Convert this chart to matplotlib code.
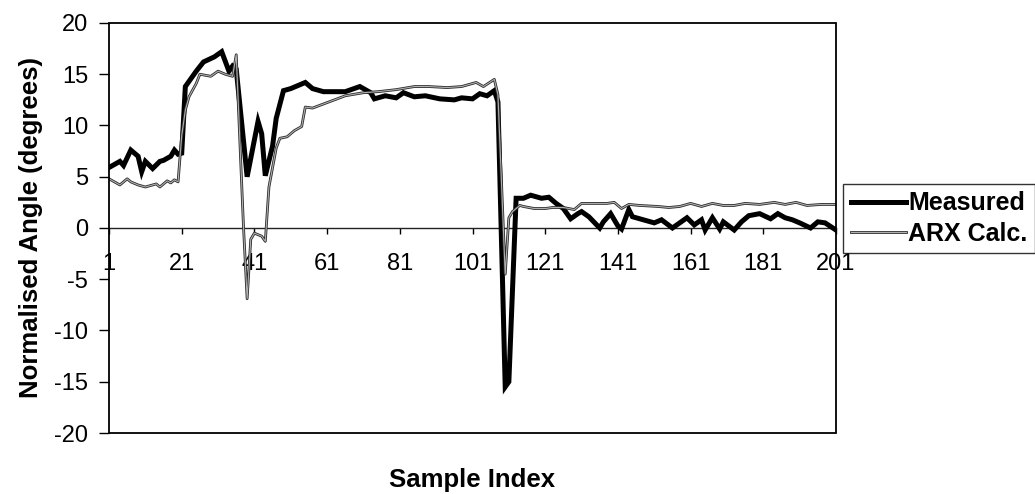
import matplotlib
matplotlib.use("Agg")
import matplotlib.pyplot as plt
import matplotlib.patheffects as pe
from matplotlib.patches import Rectangle

plt.rcParams['font.family'] = ['Liberation Sans', 'DejaVu Sans']
plt.rcParams['axes.unicode_minus'] = False

# values
meas_x = [1, 4, 5, 7, 9, 10, 11, 13, 15, 16, 18, 19, 20, 21, 22, 23, 25, 27, 30, 32,
          34, 35, 36, 39, 42, 43, 44, 46, 47, 49, 51, 55, 57, 60, 66, 70, 73, 74, 77, 80,
          82, 85, 88, 92, 96, 98, 101, 103, 105, 107, 108, 110, 111, 113, 115, 117, 120, 122, 124, 126,
          128, 130, 131, 133, 136, 137, 139, 141, 142, 144, 145, 148, 151, 153, 156, 158, 160, 162, 164, 165,
          167, 169, 170, 173, 175, 177, 180, 183, 185, 187, 189, 191, 194, 196, 198, 201]
meas_y = [5.9, 6.5, 6.1, 7.6, 7.0, 5.5, 6.5, 5.8, 6.5, 6.6, 7.0, 7.6, 7.2, 7.3, 13.8, 14.3, 15.3, 16.2, 16.7, 17.2,
          15.3, 15.8, 15.5, 5.0, 10.4, 9.2, 5.1, 8.0, 10.7, 13.4, 13.6, 14.2, 13.6, 13.3, 13.3, 13.8, 13.2, 12.6, 12.9, 12.7,
          13.2, 12.8, 12.9, 12.6, 12.5, 12.7, 12.6, 13.1, 12.9, 13.4, 12.3, -15.5, -15.0, 2.9, 2.9, 3.2, 2.9, 3.0, 2.4, 1.9,
          0.9, 1.4, 1.6, 1.1, 0.0, 0.6, 1.4, 0.2, -0.1, 1.8, 1.1, 0.8, 0.5, 0.8, 0.0, 0.5, 1.0, 0.3, 0.8, -0.2,
          1.0, -0.1, 0.6, -0.2, 0.6, 1.2, 1.4, 0.9, 1.4, 1.0, 0.8, 0.5, 0.0, 0.6, 0.5, -0.2]

arx_x = [1, 4, 6, 7, 9, 11, 14, 15, 17, 18, 19, 20, 21, 22, 23, 25, 26, 29, 31, 33,
         35, 36, 38, 39, 40, 41, 43, 44, 45, 47, 48, 50, 52, 54, 55, 57, 60, 63, 66, 71,
         75, 80, 85, 89, 94, 98, 102, 104, 107, 108, 110, 111, 112, 114, 115, 118, 121, 123, 126, 129,
         131, 133, 138, 140, 142, 144, 147, 152, 155, 158, 161, 164, 167, 170, 173, 176, 180, 184, 187, 190,
         193, 197, 201]
arx_y = [4.8, 4.2, 4.8, 4.5, 4.2, 4.0, 4.3, 4.0, 4.6, 4.4, 4.7, 4.5, 9.0, 11.5, 12.8, 14.1, 15.0, 14.8, 15.3, 15.0,
         14.8, 16.9, 0.1, -6.9, -1.1, -0.5, -0.8, -1.3, 4.0, 7.8, 8.75, 8.9, 9.5, 9.9, 11.8, 11.7, 12.1, 12.5, 12.9, 13.2,
         13.3, 13.5, 13.8, 13.8, 13.7, 13.8, 14.2, 13.8, 14.5, 13.0, -4.5, 1.0, 1.6, 2.2, 2.1, 1.9, 1.9, 2.0, 2.0, 1.8,
         2.4, 2.4, 2.4, 2.5, 1.9, 2.3, 2.2, 2.1, 2.0, 2.1, 2.4, 2.1, 2.4, 2.2, 2.2, 2.4, 2.3, 2.5, 2.3, 2.5,
         2.2, 2.3, 2.3]

xticks = list(range(1, 202, 20))
yticks = list(range(-20, 21, 5))

fig = plt.figure(figsize=(10.35, 4.94), dpi=100)
ax = fig.add_axes([109 / 1035, 61 / 494, 727 / 1035, 410 / 494])

ax.plot(meas_x, meas_y, color='black', lw=3.6, solid_joinstyle='miter', label='Measured', zorder=3)
ax.plot(arx_x, arx_y, color='#b0b0b0', lw=0.8, label='ARX Calc.', zorder=4,
        path_effects=[pe.Stroke(linewidth=2.0, foreground='#2a2a2a'), pe.Normal()])

ax.set_xlim(1, 201)
ax.set_ylim(-20, 20)
ax.set_xticks(xticks)
ax.set_yticks(yticks)

# x axis crosses at zero, frame drawn separately
for s in ['top', 'right', 'left']:
    ax.spines[s].set_visible(False)
ax.spines['bottom'].set_position(('data', 0))
ax.spines['bottom'].set_linewidth(1.0)
ax.spines['bottom'].set_color('#222222')
ax.add_patch(Rectangle((0, 0), 1, 1, transform=ax.transAxes, fill=False,
                       edgecolor='black', lw=1.3, clip_on=False, zorder=5))

ax.tick_params(axis='x', direction='out', length=4, width=1, pad=14, labelsize=17)
ax.tick_params(axis='y', direction='out', length=7, width=1, pad=8, labelsize=17)

ax.set_ylabel('Normalised Angle (degrees)', fontsize=18.5, fontweight='bold', labelpad=8)
fig.text(472 / 1035, 1 - 480 / 494, 'Sample Index', fontsize=18.5, fontweight='bold',
         ha='center', va='center')

leg = fig.legend(loc='upper left', bbox_to_anchor=(843 / 1035, 1 - 184 / 494),
                 frameon=True, fancybox=False, shadow=False, borderaxespad=0,
                 prop={'weight': 'bold', 'size': 18}, handlelength=2.2,
                 handletextpad=0.12, labelspacing=0.25, borderpad=0.3)
leg.get_frame().set_edgecolor('black')
leg.get_frame().set_linewidth(1.0)

fig.savefig('out.png', dpi=100)
